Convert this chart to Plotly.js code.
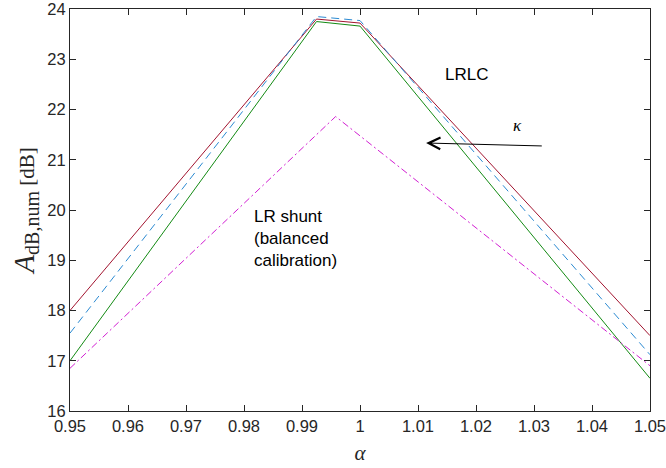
<!DOCTYPE html>
<html>
<head>
<meta charset="utf-8">
<script src="https://cdn.plot.ly/plotly-3.0.1.min.js"></script>
<style>html,body{margin:0;padding:0;background:#fff;}#chart{width:666px;height:468px;}</style>
</head>
<body>
<div id="chart"></div>
<script>
// Data
const alphaLRLC = [0.95, 0.9925, 1.0, 1.05];
const lrlcRed   = [18.0, 23.80, 23.72, 17.5];
const lrlcBlue  = [17.55, 23.85, 23.77, 17.12];
const lrlcGreen = [17.0, 23.75, 23.66, 16.65];
const alphaLR   = [0.95, 0.9958, 1.05];
const lrShunt   = [16.85, 21.86, 16.9];
const xTickVals = [0.95, 0.96, 0.97, 0.98, 0.99, 1.0, 1.01, 1.02, 1.03, 1.04, 1.05];
const xTickText = ["0.95","0.96","0.97","0.98","0.99","1","1.01","1.02","1.03","1.04","1.05"];
const yTickVals = [16, 17, 18, 19, 20, 21, 22, 23, 24];
const yTickText = ["16","17","18","19","20","21","22","23","24"];

const traces = [
  {x: alphaLRLC, y: lrlcRed, mode: 'lines', line: {color: '#A2142F', width: 1}},
  {x: alphaLRLC, y: lrlcBlue, mode: 'lines', line: {color: '#2B8AD2', width: 1, dash: '8px,5px'}},
  {x: alphaLRLC, y: lrlcGreen, mode: 'lines', line: {color: '#138A13', width: 1}},
  {x: alphaLR, y: lrShunt, mode: 'lines', line: {color: '#D21ED2', width: 1, dash: '7px,3px,2px,3px'}}
];

const axisCommon = {
  showline: true, mirror: 'ticks', linecolor: '#262626', linewidth: 1,
  ticks: 'inside', ticklen: 6, tickcolor: '#262626', showgrid: false, zeroline: false,
  ticklabeloverflow: 'allow',
  tickfont: {family: 'Liberation Sans, Arial, sans-serif', size: 16.5, color: '#262626'}
};

const layout = {
  width: 666, height: 468,
  margin: {l: 70, r: 16, t: 9, b: 57},
  paper_bgcolor: '#fff', plot_bgcolor: '#fff',
  showlegend: false,
  xaxis: Object.assign({}, axisCommon, {
    range: [0.95, 1.05], tickvals: xTickVals, ticktext: xTickText,
    title: {text: '<i>α</i>', font: {family: 'Liberation Serif, Times New Roman, serif', size: 21, color: '#262626'}, standoff: 11}
  }),
  yaxis: Object.assign({}, axisCommon, {
    range: [16, 24], tickvals: yTickVals, ticktext: yTickText,
    title: {text: '<span style="font-size:29px;font-style:italic">A</span><sub><span style="font-size:20px">dB,num</span></sub> [dB]',
            font: {family: 'Liberation Serif, Times New Roman, serif', size: 21, color: '#262626'}, standoff: 6}
  }),
  annotations: [
    {x: 1.0183, y: 22.69, xref: 'x', yref: 'y', text: 'LRLC', showarrow: false,
     font: {family: 'Liberation Sans, Arial, sans-serif', size: 17, color: '#000'}},
    {x: 1.0271, y: 21.69, xref: 'x', yref: 'y', text: '<i>κ</i>', showarrow: false,
     font: {family: 'Liberation Serif, serif', size: 17, color: '#000'}},
    {x: 1.0114, y: 21.333, ax: 1.0316, ay: 21.274, xref: 'x', yref: 'y', axref: 'x', ayref: 'y',
     text: '', showarrow: true, arrowhead: 5, arrowsize: 2.3, arrowwidth: 1, arrowcolor: '#000'},
    {x: 0.9814, y: 19.44, xref: 'x', yref: 'y', text: 'LR shunt<br>(balanced<br>calibration)', showarrow: false,
     align: 'left', xanchor: 'left',
     font: {family: 'Liberation Sans, Arial, sans-serif', size: 17, color: '#000'}}
  ]
};

Plotly.newPlot('chart', traces, layout, {displayModeBar: false, staticPlot: true});
</script>
</body>
</html>
